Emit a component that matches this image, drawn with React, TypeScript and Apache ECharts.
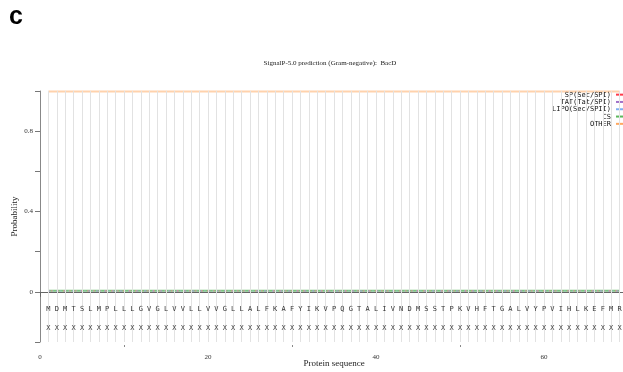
import React, { useEffect, useRef } from "react";
import * as echarts from "echarts";

const chartTitle = "SignalP-5.0 prediction (Gram-negative):  BacD";
const panelLetter = "c";

const residues = [
  "M", "D", "M", "T", "S", "L", "M", "P", "L", "L",
  "L", "G", "V", "G", "L", "V", "V", "L", "L", "V",
  "V", "G", "L", "L", "A", "L", "F", "K", "A", "F",
  "Y", "I", "K", "V", "P", "Q", "G", "T", "A", "L",
  "I", "V", "N", "D", "M", "S", "S", "T", "P", "K",
  "V", "H", "F", "T", "G", "A", "L", "V", "Y", "P",
  "V", "I", "H", "L", "K", "E", "F", "M", "R",
];

const regionLabels = [
  "X", "X", "X", "X", "X", "X", "X", "X", "X", "X",
  "X", "X", "X", "X", "X", "X", "X", "X", "X", "X",
  "X", "X", "X", "X", "X", "X", "X", "X", "X", "X",
  "X", "X", "X", "X", "X", "X", "X", "X", "X", "X",
  "X", "X", "X", "X", "X", "X", "X", "X", "X", "X",
  "X", "X", "X", "X", "X", "X", "X", "X", "X", "X",
  "X", "X", "X", "X", "X", "X", "X", "X", "X",
];

const positions = [
  1, 2, 3, 4, 5, 6, 7, 8, 9, 10,
  11, 12, 13, 14, 15, 16, 17, 18, 19, 20,
  21, 22, 23, 24, 25, 26, 27, 28, 29, 30,
  31, 32, 33, 34, 35, 36, 37, 38, 39, 40,
  41, 42, 43, 44, 45, 46, 47, 48, 49, 50,
  51, 52, 53, 54, 55, 56, 57, 58, 59, 60,
  61, 62, 63, 64, 65, 66, 67, 68, 69,
];

const otherValues = [
  0.998, 0.998, 0.998, 0.998, 0.998, 0.998, 0.998, 0.998, 0.998, 0.998,
  0.998, 0.998, 0.998, 0.998, 0.998, 0.998, 0.998, 0.998, 0.998, 0.998,
  0.998, 0.998, 0.998, 0.998, 0.998, 0.998, 0.998, 0.998, 0.998, 0.998,
  0.998, 0.998, 0.998, 0.998, 0.998, 0.998, 0.998, 0.998, 0.998, 0.998,
  0.998, 0.998, 0.998, 0.998, 0.998, 0.998, 0.998, 0.998, 0.998, 0.998,
  0.998, 0.998, 0.998, 0.998, 0.998, 0.998, 0.998, 0.998, 0.998, 0.998,
  0.998, 0.998, 0.998, 0.998, 0.998, 0.998, 0.998, 0.998, 0.998,
];

const csValues = [
  0.005, 0.005, 0.005, 0.005, 0.005, 0.005, 0.005, 0.005, 0.005, 0.005,
  0.005, 0.005, 0.005, 0.005, 0.005, 0.005, 0.005, 0.005, 0.005, 0.005,
  0.005, 0.005, 0.005, 0.005, 0.005, 0.005, 0.005, 0.005, 0.005, 0.005,
  0.005, 0.005, 0.005, 0.005, 0.005, 0.005, 0.005, 0.005, 0.005, 0.005,
  0.005, 0.005, 0.005, 0.005, 0.005, 0.005, 0.005, 0.005, 0.005, 0.005,
  0.005, 0.005, 0.005, 0.005, 0.005, 0.005, 0.005, 0.005, 0.005, 0.005,
  0.005, 0.005, 0.005, 0.005, 0.005, 0.005, 0.005, 0.005, 0.005,
];

const spValues = [
  0.005, 0.005, 0.005, 0.005, 0.005, 0.005, 0.005, 0.005, 0.005, 0.005,
  0.005, 0.005, 0.005, 0.005, 0.005, 0.005, 0.005, 0.005, 0.005, 0.005,
  0.005, 0.005, 0.005, 0.005, 0.005, 0.005, 0.005, 0.005, 0.005, 0.005,
  0.005, 0.005, 0.005, 0.005, 0.005, 0.005, 0.005, 0.005, 0.005, 0.005,
  0.005, 0.005, 0.005, 0.005, 0.005, 0.005, 0.005, 0.005, 0.005, 0.005,
  0.005, 0.005, 0.005, 0.005, 0.005, 0.005, 0.005, 0.005, 0.005, 0.005,
  0.005, 0.005, 0.005, 0.005, 0.005, 0.005, 0.005, 0.005, 0.005,
];

const tatValues = [
  0.004, 0.004, 0.004, 0.004, 0.004, 0.004, 0.004, 0.004, 0.004, 0.004,
  0.004, 0.004, 0.004, 0.004, 0.004, 0.004, 0.004, 0.004, 0.004, 0.004,
  0.004, 0.004, 0.004, 0.004, 0.004, 0.004, 0.004, 0.004, 0.004, 0.004,
  0.004, 0.004, 0.004, 0.004, 0.004, 0.004, 0.004, 0.004, 0.004, 0.004,
  0.004, 0.004, 0.004, 0.004, 0.004, 0.004, 0.004, 0.004, 0.004, 0.004,
  0.004, 0.004, 0.004, 0.004, 0.004, 0.004, 0.004, 0.004, 0.004, 0.004,
  0.004, 0.004, 0.004, 0.004, 0.004, 0.004, 0.004, 0.004, 0.004,
];

const lipoValues = [
  0.004, 0.004, 0.004, 0.004, 0.004, 0.004, 0.004, 0.004, 0.004, 0.004,
  0.004, 0.004, 0.004, 0.004, 0.004, 0.004, 0.004, 0.004, 0.004, 0.004,
  0.004, 0.004, 0.004, 0.004, 0.004, 0.004, 0.004, 0.004, 0.004, 0.004,
  0.004, 0.004, 0.004, 0.004, 0.004, 0.004, 0.004, 0.004, 0.004, 0.004,
  0.004, 0.004, 0.004, 0.004, 0.004, 0.004, 0.004, 0.004, 0.004, 0.004,
  0.004, 0.004, 0.004, 0.004, 0.004, 0.004, 0.004, 0.004, 0.004, 0.004,
  0.004, 0.004, 0.004, 0.004, 0.004, 0.004, 0.004, 0.004, 0.004,
];

const seriesNames = ["SP(Sec/SPI)", "TAT(Tat/SPI)", "LIPO(Sec/SPII)", "CS", "OTHER"];

const yTickValues = [-0.25, 0, 0.2, 0.4, 0.6, 0.8, 1];
const yLabelValues = [0, 0.4, 0.8];
const xLabelValues = [0, 20, 40, 60];
const xMinorTickValues = [10, 30, 50];

const residueRowY = -0.085;
const regionRowY = -0.18;

const serif = "'Liberation Serif', 'DejaVu Serif', serif";
const mono = "'DejaVu Sans Mono', 'Liberation Mono', monospace";

export default function App() {
  const ref = useRef<HTMLDivElement>(null);

  useEffect(() => {
    document.body.style.margin = "0";
    document.body.style.background = "#ffffff";
    if (!ref.current) return;
    const chart = echarts.init(ref.current, null, { renderer: "svg" });

    const pairs = (vals: number[]) => positions.map((p, i) => [p, vals[i]]);

    const textSeries = (name: string, letters: string[], yv: number, color: string) => ({
      name,
      type: "custom",
      silent: true,
      colorBy: "series",
      itemStyle: { color },
      z: 5,
      data: positions.map((p) => [p, yv]),
      renderItem: (params: any, api: any) => {
        const pt = api.coord([api.value(0), api.value(1)]);
        return {
          type: "text",
          x: pt[0],
          y: pt[1],
          style: {
            text: letters[params.dataIndex],
            fill: color,
            fontFamily: mono,
            fontSize: 7,
            align: "center",
            verticalAlign: "middle",
          },
        };
      },
    });

    const option: any = {
      animation: false,
      graphic: [
        {
          type: "text",
          left: 9,
          top: 2,
          style: {
            text: panelLetter,
            font: "bold 25px 'Liberation Sans', Arial, sans-serif",
            fill: "#000",
          },
        },
        {
          type: "text",
          x: 330,
          y: 63,
          style: {
            text: chartTitle,
            font: `7px ${serif}`,
            fill: "#222",
            align: "center",
            verticalAlign: "middle",
          },
        },
      ],
      legend: {
        data: seriesNames,
        orient: "vertical",
        right: 0,
        top: 91,
        align: "right",
        padding: 0,
        itemGap: 0,
        itemWidth: 7,
        itemHeight: 2,
        icon: "rect",
        selectedMode: false,
        textStyle: {
          fontFamily: mono,
          fontSize: 7,
          lineHeight: 7.3,
          color: "#111",
          padding: [0, 0, 0, 0],
        },
      },
      grid: {
        left: 40,
        top: 91,
        width: 588,
        height: 251,
        containLabel: false,
        outerBoundsMode: "none",
      },
      xAxis: [
        {
          type: "value",
          min: 0,
          max: 70,
          interval: 10,
          offset: 3,
          name: "Protein sequence",
          nameLocation: "middle",
          nameGap: 13,
          nameMoveOverlap: false,
          nameTextStyle: { fontFamily: serif, fontSize: 9, color: "#222" },
          axisLine: { show: true, lineStyle: { color: "#666", width: 1 } },
          axisTick: { show: true, length: 5, customValues: xLabelValues, lineStyle: { color: "#666" } },
          axisLabel: {
            show: true,
            customValues: xLabelValues,
            fontFamily: serif,
            fontSize: 7,
            color: "#333",
            margin: 8,
          },
          splitLine: { show: false },
        },
        {
          type: "value",
          min: 0,
          max: 70,
          position: "bottom",
          offset: 3,
          axisLine: { show: false },
          axisTick: { show: true, length: 2, customValues: xMinorTickValues, lineStyle: { color: "#888" } },
          axisLabel: { show: false, color: "#333" },
          splitLine: { show: false },
        },
      ],
      yAxis: {
        type: "value",
        min: -0.25,
        max: 1,
        offset: 4,
        name: "Probability",
        nameLocation: "middle",
        nameGap: 18,
        nameMoveOverlap: false,
        nameTextStyle: { fontFamily: serif, fontSize: 9, color: "#222" },
        axisLine: { show: true, lineStyle: { color: "#888", width: 1 } },
        axisTick: { show: true, length: 5, customValues: yTickValues, lineStyle: { color: "#777" } },
        axisLabel: {
          show: true,
          customValues: yLabelValues,
          fontFamily: serif,
          fontSize: 7,
          color: "#333",
          margin: 3,
        },
        splitLine: { show: false },
      },
      series: [
        {
          name: "guides",
          type: "line",
          data: [],
          silent: true,
          z: 1,
          markLine: {
            silent: true,
            symbol: ["none", "none"],
            label: { show: false },
            lineStyle: { color: "#e2e2e2", width: 1, type: "solid" },
            data: positions.map((p) => ({ xAxis: p })),
          },
        },
        {
          name: "CS",
          type: "line",
          data: pairs(csValues),
          symbol: "none",
          clip: false,
          z: 3,
          color: "#5cb85c",
          lineStyle: { color: "#7cc47c", width: 2, type: "solid" },
        },
        {
          name: "LIPO(Sec/SPII)",
          type: "line",
          data: pairs(lipoValues),
          symbol: "none",
          clip: false,
          z: 3,
          color: "#7fb0f0",
          lineStyle: { color: "#9cc0f0", width: 1.2, type: [1, 3] },
        },
        {
          name: "TAT(Tat/SPI)",
          type: "line",
          data: pairs(tatValues),
          symbol: "none",
          clip: false,
          z: 3,
          color: "#a070c8",
          lineStyle: { color: "#b090d0", width: 1.2, type: [2, 6] },
        },
        {
          name: "SP(Sec/SPI)",
          type: "line",
          data: pairs(spValues),
          symbol: "none",
          clip: false,
          z: 3,
          color: "#ff3b4b",
          lineStyle: { color: "#ff8090", width: 1.2, type: [1, 5], dashOffset: 3 },
        },
        {
          name: "OTHER",
          type: "line",
          data: pairs(otherValues),
          symbol: "none",
          clip: false,
          z: 3,
          color: "#ffa860",
          lineStyle: { color: "#ffd2ac", width: 2, type: "solid" },
        },
        textSeries("residues", residues, residueRowY, "#333"),
        textSeries("regions", regionLabels, regionRowY, "#444"),
      ],
    };

    chart.setOption(option);
    return () => chart.dispose();
  }, []);

  return (
    <div
      ref={ref}
      style={{ position: "fixed", left: 0, top: 0, width: 623, height: 372, willChange: "transform" }}
    />
  );
}
